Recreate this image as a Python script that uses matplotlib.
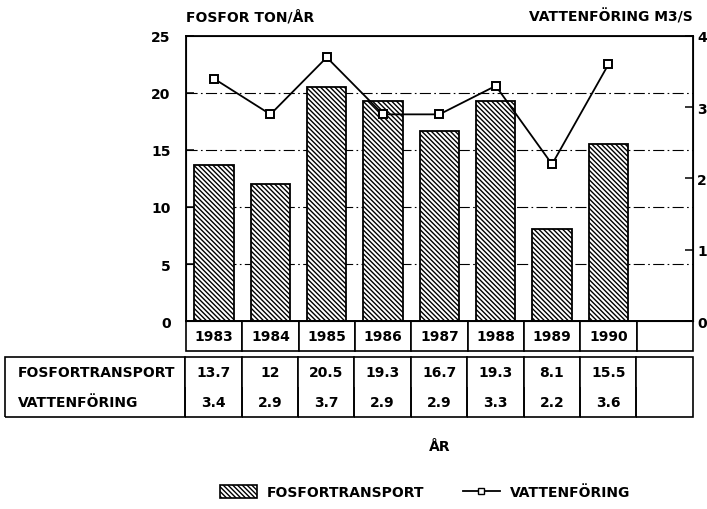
import numpy as np
import matplotlib
matplotlib.use("Agg")
import matplotlib.pyplot as plt
from matplotlib.patches import Patch
from matplotlib.lines import Line2D

# data
years = [1983, 1984, 1985, 1986, 1987, 1988, 1989, 1990]
fosfor = [13.7, 12, 20.5, 19.3, 16.7, 19.3, 8.1, 15.5]     # ton/år
vatten = [3.4, 2.9, 3.7, 2.9, 2.9, 3.3, 2.2, 3.6]          # m3/s
left_ticks = [0, 5, 10, 15, 20, 25]
right_ticks = [0, 1, 2, 3, 4]

plt.rcParams['font.family'] = ['DejaVu Sans']
plt.rcParams['font.weight'] = 'bold'
plt.rcParams['hatch.linewidth'] = 1.0
FS = 10
HATCH = '\\\\\\\\\\\\\\'

fig = plt.figure(figsize=(7.07, 5.10), dpi=100)
ax = fig.add_axes([0.263, 0.3686, 0.717, 0.5589])

x = np.arange(len(years))
ax.bar(x, fosfor, width=0.7, facecolor='white', edgecolor='black',
       hatch=HATCH, linewidth=1.3, zorder=2)
ax.set_xlim(-0.5, len(years) + 0.5)
ax.set_ylim(0, 25)
ax.set_yticks(left_ticks)
ax.set_xticks([])
ax.tick_params(axis='y', direction='in', length=6, width=1.1,
               labelsize=FS, pad=11)
for yv in left_ticks[1:-1]:
    ax.axhline(yv, color='black', lw=0.8, ls=(0, (10, 3, 1.5, 3)), zorder=1)
for s in ax.spines.values():
    s.set_linewidth(1.3)

ax2 = ax.twinx()
ax2.plot(x, vatten, color='black', lw=1.3, marker='s', ms=6,
         mfc='white', mec='black', mew=1.4, zorder=3)
ax2.set_ylim(0, 4)
ax2.set_yticks(right_ticks)
ax2.tick_params(axis='y', direction='in', length=6, width=1.1,
                labelsize=FS, pad=3)

ax.text(0, 1.07, 'FOSFOR TON/ÅR', transform=ax.transAxes, ha='left',
        va='center', fontsize=FS)
ax.text(1, 1.07, 'VATTENFÖRING M3/S', transform=ax.transAxes, ha='right',
        va='center', fontsize=FS)

# year row
yt = ax.table(cellText=[[str(y) for y in years] + ['']], cellLoc='center',
              bbox=[0, -0.105, 1, 0.105])
yt.auto_set_font_size(False)
yt.set_fontsize(FS)
for c in yt.get_celld().values():
    c.set_linewidth(1.2)

# data table
rows = [['FOSFORTRANSPORT'] + ['{:g}'.format(v) for v in fosfor] + [''],
        ['VATTENFÖRING'] + ['{:g}'.format(v) for v in vatten] + ['']]
dt = ax.table(cellText=rows, cellLoc='center',
              colWidths=[180] + [56.3] * 9,
              bbox=[-0.357, -0.337, 1.357, 0.211])
dt.auto_set_font_size(False)
dt.set_fontsize(FS)
for (r, c), cell in dt.get_celld().items():
    cell.set_linewidth(1.2)
    cell.visible_edges = 'TLR' if r == 0 else 'BLR'
    if c == 0:
        cell.PAD = 0.07
        cell.get_text().set_ha('left')
        cell._loc = 'left'

ax.text(0.5, -0.437, 'ÅR', transform=ax.transAxes, ha='center',
        va='center', fontsize=FS)

handles = [Patch(facecolor='white', edgecolor='black', hatch=HATCH, lw=1.2),
           Line2D([], [], color='black', lw=1.3, marker='s', ms=5,
                  mfc='white', mec='black')]
fig.legend(handles, ['FOSFORTRANSPORT', 'VATTENFÖRING'], loc='center',
           bbox_to_anchor=(0.601, 0.033), ncol=2, frameon=False,
           fontsize=FS, columnspacing=2.8, handlelength=2.66,
           handleheight=1.0, handletextpad=0.72)

fig.savefig('out.png', dpi=100)
